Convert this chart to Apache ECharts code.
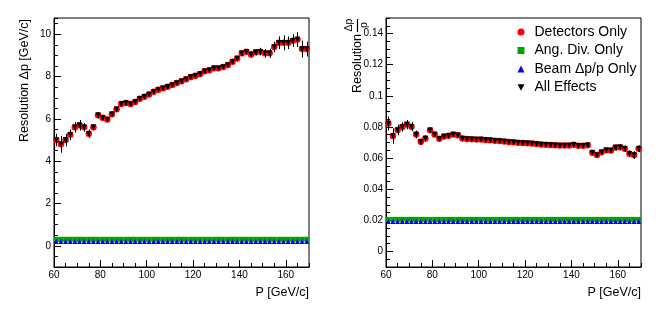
<!DOCTYPE html>
<html><head><meta charset="utf-8">
<script src="https://cdn.jsdelivr.net/npm/echarts@6/dist/echarts.min.js"></script>
<style>html,body{margin:0;padding:0;background:#fff}#c{width:664px;height:317px}</style>
</head><body><div id="c"></div>
<script>
const P = [61,63,65,67,69,71,73,75,77,79,81,83,85,87,89,91,93,95,97,99,101,103,105,107,109,111,113,115,117,119,121,123,125,127,129,131,133,135,137,139,141,143,145,147,149,151,153,155,157,159,161,163,165,167,169];

const xTicks = [60,80,100,120,140,160];
const yTicksLeft = [0,2,4,6,8,10];
const yTicksRight = [0,0.02,0.04,0.06,0.08,0.1,0.12,0.14];

const leftAll = [5.0,4.8,5.0,5.25,5.6,5.7,5.6,5.3,5.6,6.17,6.06,5.97,6.22,6.46,6.7,6.75,6.7,6.8,6.95,7.05,7.15,7.28,7.38,7.45,7.52,7.6,7.7,7.78,7.87,7.98,8.04,8.12,8.25,8.3,8.4,8.4,8.45,8.55,8.7,8.85,9.1,9.18,9.05,9.15,9.18,9.1,9.1,9.4,9.6,9.6,9.6,9.7,9.75,9.3,9.3];
const leftAllErr = [0.3,0.4,0.3,0.25,0.25,0.25,0.2,0.2,0.15,0.15,0.12,0.1,0.1,0.1,0.1,0.1,0.1,0.08,0.08,0.08,0.08,0.08,0.08,0.08,0.08,0.08,0.08,0.08,0.08,0.08,0.08,0.08,0.08,0.08,0.08,0.08,0.08,0.08,0.08,0.08,0.12,0.12,0.15,0.15,0.18,0.2,0.22,0.25,0.3,0.35,0.3,0.3,0.35,0.4,0.35];
const leftDetectors = [5.0,4.8,5.0,5.25,5.6,5.7,5.6,5.3,5.6,6.17,6.06,5.97,6.22,6.46,6.7,6.75,6.7,6.8,6.95,7.05,7.15,7.28,7.38,7.45,7.52,7.6,7.7,7.78,7.87,7.98,8.04,8.12,8.25,8.3,8.4,8.4,8.45,8.55,8.7,8.85,9.1,9.18,9.05,9.15,9.18,9.1,9.1,9.4,9.6,9.6,9.6,9.7,9.75,9.3,9.3];
const leftAngDiv = [0.31,0.31,0.31,0.31,0.31,0.31,0.31,0.31,0.31,0.31,0.31,0.31,0.31,0.31,0.31,0.31,0.31,0.31,0.31,0.31,0.31,0.31,0.31,0.31,0.31,0.31,0.31,0.31,0.31,0.31,0.31,0.31,0.31,0.31,0.31,0.31,0.31,0.31,0.31,0.31,0.31,0.31,0.31,0.31,0.31,0.31,0.31,0.31,0.31,0.31,0.31,0.31,0.31,0.31,0.31];
const leftBeam = [0.21,0.21,0.21,0.21,0.21,0.21,0.21,0.21,0.21,0.21,0.21,0.21,0.21,0.21,0.21,0.21,0.21,0.21,0.21,0.21,0.21,0.21,0.21,0.21,0.21,0.21,0.21,0.21,0.21,0.21,0.21,0.21,0.21,0.21,0.21,0.21,0.21,0.21,0.21,0.21,0.21,0.21,0.21,0.21,0.21,0.21,0.21,0.21,0.21,0.21,0.21,0.21,0.21,0.21,0.21];

const rightAll = [0.0822,0.0742,0.0780,0.0800,0.0815,0.0802,0.0752,0.0705,0.0725,0.0778,0.0752,0.0724,0.0738,0.0744,0.0752,0.0746,0.0726,0.0722,0.0721,0.0720,0.0719,0.0716,0.0714,0.0711,0.0709,0.0706,0.0704,0.0702,0.0698,0.0697,0.0695,0.0693,0.0690,0.0687,0.0686,0.0684,0.0682,0.0680,0.0680,0.0681,0.0686,0.0679,0.0679,0.0682,0.0634,0.0619,0.0638,0.0650,0.0648,0.0668,0.0669,0.0660,0.0628,0.0619,0.0660];
const rightAllErr = [0.0045,0.005,0.0035,0.003,0.003,0.003,0.0025,0.002,0.002,0.0015,0.0012,0.001,0.001,0.001,0.001,0.001,0.0008,0.0008,0.0008,0.0008,0.0008,0.0008,0.0008,0.0008,0.0008,0.0008,0.0008,0.0008,0.0008,0.0008,0.0008,0.0008,0.0008,0.0008,0.0008,0.0008,0.0008,0.0008,0.0008,0.0008,0.0008,0.0008,0.0008,0.001,0.001,0.0012,0.0012,0.0015,0.0015,0.0018,0.0018,0.002,0.002,0.0025,0.0022];
const rightDetectors = [0.0822,0.0742,0.0780,0.0800,0.0815,0.0802,0.0752,0.0705,0.0725,0.0778,0.0752,0.0724,0.0738,0.0744,0.0752,0.0746,0.0726,0.0722,0.0721,0.0720,0.0719,0.0716,0.0714,0.0711,0.0709,0.0706,0.0704,0.0702,0.0698,0.0697,0.0695,0.0693,0.0690,0.0687,0.0686,0.0684,0.0682,0.0680,0.0680,0.0681,0.0686,0.0679,0.0679,0.0682,0.0634,0.0619,0.0638,0.0650,0.0648,0.0668,0.0669,0.0660,0.0628,0.0619,0.0660];
const rightAngDiv = [0.0206,0.0206,0.0206,0.0206,0.0206,0.0206,0.0206,0.0206,0.0206,0.0206,0.0206,0.0206,0.0206,0.0206,0.0206,0.0206,0.0206,0.0206,0.0206,0.0206,0.0206,0.0206,0.0206,0.0206,0.0206,0.0206,0.0206,0.0206,0.0206,0.0206,0.0206,0.0206,0.0206,0.0206,0.0206,0.0206,0.0206,0.0206,0.0206,0.0206,0.0206,0.0206,0.0206,0.0206,0.0206,0.0206,0.0206,0.0206,0.0206,0.0206,0.0206,0.0206,0.0206,0.0206,0.0206];
const rightBeam = [0.0193,0.0193,0.0193,0.0193,0.0193,0.0193,0.0193,0.0193,0.0193,0.0193,0.0193,0.0193,0.0193,0.0193,0.0193,0.0193,0.0193,0.0193,0.0193,0.0193,0.0193,0.0193,0.0193,0.0193,0.0193,0.0193,0.0193,0.0193,0.0193,0.0193,0.0193,0.0193,0.0193,0.0193,0.0193,0.0193,0.0193,0.0193,0.0193,0.0193,0.0193,0.0193,0.0193,0.0193,0.0193,0.0193,0.0193,0.0193,0.0193,0.0193,0.0193,0.0193,0.0193,0.0193,0.0193];

const names = ['Detectors Only','Ang. Div. Only','Beam \u0394p/p Only','All Effects'];
const FONT = 'Liberation Sans';
const DOWN = 'path://M0,0L10,0L5,9Z';
const RED = '#ff0000', GREEN = '#00a600', BLUE = '#0000ff', BLACK = '#000000';

const chart = echarts.init(document.getElementById('c'), null, {renderer:'canvas'});

function pairs(vals){ return P.map((p,i)=>[p, vals[i]]); }
function errPairs(vals, errs){ return P.map((p,i)=>[p, vals[i], errs[i]]); }

function mainX(gi){
  return {type:'value', gridIndex:gi, min:60, max:170, interval:5, position:'bottom',
    axisLine:{show:true, onZero:false, lineStyle:{color:BLACK,width:1}},
    axisTick:{show:true, inside:true, length:4, lineStyle:{color:BLACK}},
    axisLabel:{show:true, customValues:xTicks, margin:3, color:BLACK, fontFamily:FONT, fontSize:10},
    splitLine:{show:false}};
}
function majorX(gi){
  return {type:'value', gridIndex:gi, min:60, max:170, position:'bottom',
    axisLine:{show:false, onZero:false},
    axisTick:{show:true, inside:true, length:7, customValues:xTicks, lineStyle:{color:BLACK}},
    axisLabel:{show:false}, splitLine:{show:false}};
}
function mainY(gi, min, max, interval, ticks){
  return {type:'value', gridIndex:gi, min:min, max:max, interval:interval, position:'left',
    axisLine:{show:true, onZero:false, lineStyle:{color:BLACK,width:1}},
    axisTick:{show:true, inside:true, length:4, lineStyle:{color:BLACK}},
    axisLabel:{show:true, customValues:ticks, margin:3, color:BLACK, fontFamily:FONT, fontSize:10},
    splitLine:{show:false}};
}
function majorY(gi, min, max, ticks){
  return {type:'value', gridIndex:gi, min:min, max:max, position:'left',
    axisLine:{show:false, onZero:false},
    axisTick:{show:true, inside:true, length:7, customValues:ticks, lineStyle:{color:BLACK}},
    axisLabel:{show:false}, splitLine:{show:false}};
}

function errSeries(xi, yi, vals, errs, color, z){
  return {type:'custom', xAxisIndex:xi, yAxisIndex:yi, silent:true, z:z,
    encode:{x:0, y:1},
    data: errPairs(vals, errs),
    renderItem: function(params, api){
      const x = api.value(0), v = api.value(1), e = api.value(2);
      const a = api.coord([x, v - e]), b = api.coord([x, v + e]);
      const px = Math.round(a[0]) + 0.5;
      return {type:'line', shape:{x1:px, y1:a[1], x2:px, y2:b[1]},
        style:{stroke:color, lineWidth:1}};
    }};
}
function markSeries(name, xi, yi, vals, symbol, size, color, z){
  return {type:'line', name:name, xAxisIndex:xi, yAxisIndex:yi, data:pairs(vals),
    symbol:symbol, symbolSize:size, showSymbol:true, lineStyle:{width:0, opacity:0},
    itemStyle:{color:color, borderWidth:0}, z:z, animation:false, silent:true};
}

const option = {
  animation:false,
  backgroundColor:'#ffffff',
  textStyle:{fontFamily:FONT},
  grid:[
    {left:54, top:18, width:255, height:249, show:true, borderColor:BLACK, borderWidth:1, backgroundColor:'transparent'},
    {left:386, top:18, width:255, height:249, show:true, borderColor:BLACK, borderWidth:1, backgroundColor:'transparent'}
  ],
  xAxis:[ mainX(0), majorX(0), mainX(1), majorX(1) ],
  yAxis:[
    mainY(0, -1, 10.77, 0.5, yTicksLeft), majorY(0, -1, 10.77, yTicksLeft),
    mainY(1, -0.01, 0.15, 0.005, yTicksRight), majorY(1, -0.01, 0.15, yTicksRight)
  ],
  legend:{
    show:true, orient:'vertical', left:512.5, top:20, itemWidth:7, itemHeight:7, itemGap:4.5,
    selectedMode:false,
    textStyle:{fontFamily:FONT, fontSize:14, color:BLACK, lineHeight:14, padding:[0,0,0,5]},
    data:[
      {name:names[0], icon:'circle', itemStyle:{color:RED}},
      {name:names[1], icon:'rect', itemStyle:{color:GREEN}},
      {name:names[2], icon:'triangle', itemStyle:{color:BLUE}},
      {name:names[3], icon:DOWN, itemStyle:{color:BLACK}}
    ]
  },
  graphic:[
    {type:'text', x:25, y:19, rotation:Math.PI/2, style:{text:'Resolution \u0394p [GeV/c]', font:'12.5px "Liberation Sans"', fill:BLACK, align:'right', verticalAlign:'middle'}},
    {type:'text', x:309, y:293, style:{text:'P [GeV/c]', font:'12.5px "Liberation Sans"', fill:BLACK, align:'right', verticalAlign:'middle'}},
    {type:'text', x:641, y:293, style:{text:'P [GeV/c]', font:'12.5px "Liberation Sans"', fill:BLACK, align:'right', verticalAlign:'middle'}},
    {type:'text', x:358, y:34, rotation:Math.PI/2, style:{text:'Resolution', font:'12.5px "Liberation Sans"', fill:BLACK, align:'right', verticalAlign:'middle'}},
    {type:'text', x:349, y:25, rotation:Math.PI/2, style:{text:'\u0394p', font:'10.5px "Liberation Sans"', fill:BLACK, align:'center', verticalAlign:'middle'}},
    {type:'text', x:364, y:25, rotation:Math.PI/2, style:{text:'p', font:'10.5px "Liberation Sans"', fill:BLACK, align:'center', verticalAlign:'middle'}},
    {type:'line', shape:{x1:357.5, y1:19, x2:357.5, y2:32}, style:{stroke:BLACK, lineWidth:1.2}}
  ],
  series:[
    markSeries(names[0], 0, 0, leftDetectors, 'circle', 6.5, RED, 3),
    markSeries(names[1], 0, 0, leftAngDiv, 'rect', 5, GREEN, 4),
    markSeries(names[2], 0, 0, leftBeam, 'triangle', 5, BLUE, 5),
    errSeries(0, 0, leftAll, leftAllErr, BLACK, 6),
    markSeries(names[3], 0, 0, leftAll, DOWN, 5.5, BLACK, 7),
    markSeries(names[0], 2, 2, rightDetectors, 'circle', 6.5, RED, 3),
    markSeries(names[1], 2, 2, rightAngDiv, 'rect', 5, GREEN, 4),
    markSeries(names[2], 2, 2, rightBeam, 'triangle', 5, BLUE, 5),
    errSeries(2, 2, rightAll, rightAllErr, BLACK, 6),
    markSeries(names[3], 2, 2, rightAll, DOWN, 5.5, BLACK, 7)
  ]
};
chart.setOption(option);
</script></body></html>
